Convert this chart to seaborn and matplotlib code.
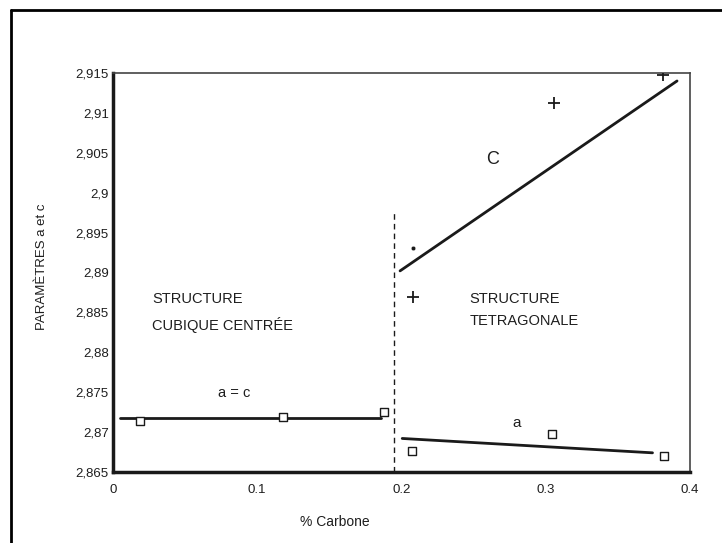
import numpy as np
import pandas as pd
import matplotlib
matplotlib.use('Agg')
import matplotlib.pyplot as plt
import seaborn as sns
from matplotlib import font_manager

# values
a_cubic_x = [0.019, 0.118, 0.188]
a_cubic_y = [2.8714, 2.8719, 2.8725]
a_tetra_x = [0.207, 0.304, 0.382]
a_tetra_y = [2.8676, 2.8698, 2.8670]
c_plus_x = [0.208, 0.306, 0.381]
c_plus_y = [2.8869, 2.9113, 2.9148]
c_dot_x = [0.208]
c_dot_y = [2.8931]

fit_ac_x = [0.005, 0.186]
fit_ac_y = [2.8718, 2.8718]
fit_a_x = [0.2005, 0.374]
fit_a_y = [2.8692, 2.8674]
fit_c_x = [0.199, 0.391]
fit_c_y = [2.8902, 2.9140]

x_ticks = [0, 0.1, 0.2, 0.3, 0.4]
x_labels = ['0', '0.1', '0.2', '0.3', '0.4']
y_ticks = [2.865, 2.87, 2.875, 2.88, 2.885, 2.89, 2.895, 2.9, 2.905, 2.91, 2.915]
y_labels = ['2,865', '2,87', '2,875', '2,88', '2,885', '2,89', '2,895', '2,9', '2,905', '2,91', '2,915']

sns.set_style('white')
names = [f.name for f in font_manager.fontManager.ttflist]
fam = 'Liberation Sans Narrow' if 'Liberation Sans Narrow' in names else 'Liberation Sans'
plt.rcParams['font.family'] = [fam, 'DejaVu Sans']

fig = plt.figure(figsize=(7.22, 5.43), dpi=100)
ax = fig.add_axes([0.1565, 0.1308, 0.7992, 0.7348])

ink = '#1a1a1a'
txt = '#1e1e1e'
for xs, ys in [(fit_ac_x, fit_ac_y), (fit_a_x, fit_a_y), (fit_c_x, fit_c_y)]:
    sns.lineplot(x=xs, y=ys, ax=ax, color=ink, linewidth=2, estimator=None, sort=False)

sns.scatterplot(x=a_cubic_x + a_tetra_x, y=a_cubic_y + a_tetra_y, ax=ax, marker='s', s=36,
                facecolor='white', edgecolor=ink, linewidth=1, zorder=3)
sns.scatterplot(x=c_plus_x, y=c_plus_y, ax=ax, marker='+', s=70, color=ink, linewidth=1.3, zorder=3)
sns.scatterplot(x=c_dot_x, y=c_dot_y, ax=ax, marker='o', s=10, color=ink, zorder=3)

ax.plot([0.195, 0.195], [2.865, 2.8978], color=ink, linestyle=(0, (4, 3)), linewidth=1)

ax.set_xlim(0, 0.4)
ax.set_ylim(2.865, 2.915)
ax.set_xticks(x_ticks)
ax.set_xticklabels(x_labels)
ax.set_xticks([0.05, 0.15, 0.25, 0.35], minor=True)
ax.set_yticks(y_ticks)
ax.set_yticklabels(y_labels)
ax.tick_params(axis='both', which='both', direction='in', length=5, width=1, color=ink,
               labelsize=9.5, labelcolor=txt)
ax.tick_params(axis='x', pad=9)
ax.tick_params(axis='y', pad=3)
for side in ['left', 'bottom']:
    ax.spines[side].set_linewidth(2.5)
    ax.spines[side].set_color(ink)
for side in ['top', 'right']:
    ax.spines[side].set_linewidth(1.2)
    ax.spines[side].set_color('#444444')

ax.set_xlabel('% Carbone', fontsize=10, color=txt)
ax.xaxis.set_label_coords(0.385, -0.108)
ax.set_ylabel('PARAMÈTRES a et c', fontsize=9.5, color=txt)
ax.yaxis.set_label_coords(-0.112, 0.514)

ax.text(0.027, 2.8850, 'STRUCTURE\nCUBIQUE CENTRÉE', fontsize=10.5, va='center', ha='left',
        color=txt, linespacing=1.8)
ax.text(0.247, 2.8853, 'STRUCTURE\nTETRAGONALE', fontsize=10.5, va='center', ha='left',
        color=txt, linespacing=1.8)
ax.text(0.263, 2.9042, 'C', fontsize=13, ha='center', va='center', color=txt)
ax.text(0.084, 2.8749, 'a = c', fontsize=10.5, ha='center', va='center', color=txt)
ax.text(0.280, 2.8711, 'a', fontsize=11, ha='center', va='center', color=txt)

# page frame (left and top edges of the scan)
fig.add_artist(plt.Line2D([11 / 722, 11 / 722], [0, 1 - 10 / 543], color='black', linewidth=2,
                          transform=fig.transFigure))
fig.add_artist(plt.Line2D([11 / 722, 1], [1 - 10 / 543, 1 - 10 / 543], color='black', linewidth=2,
                          transform=fig.transFigure))

fig.savefig('out.png', dpi=100)
